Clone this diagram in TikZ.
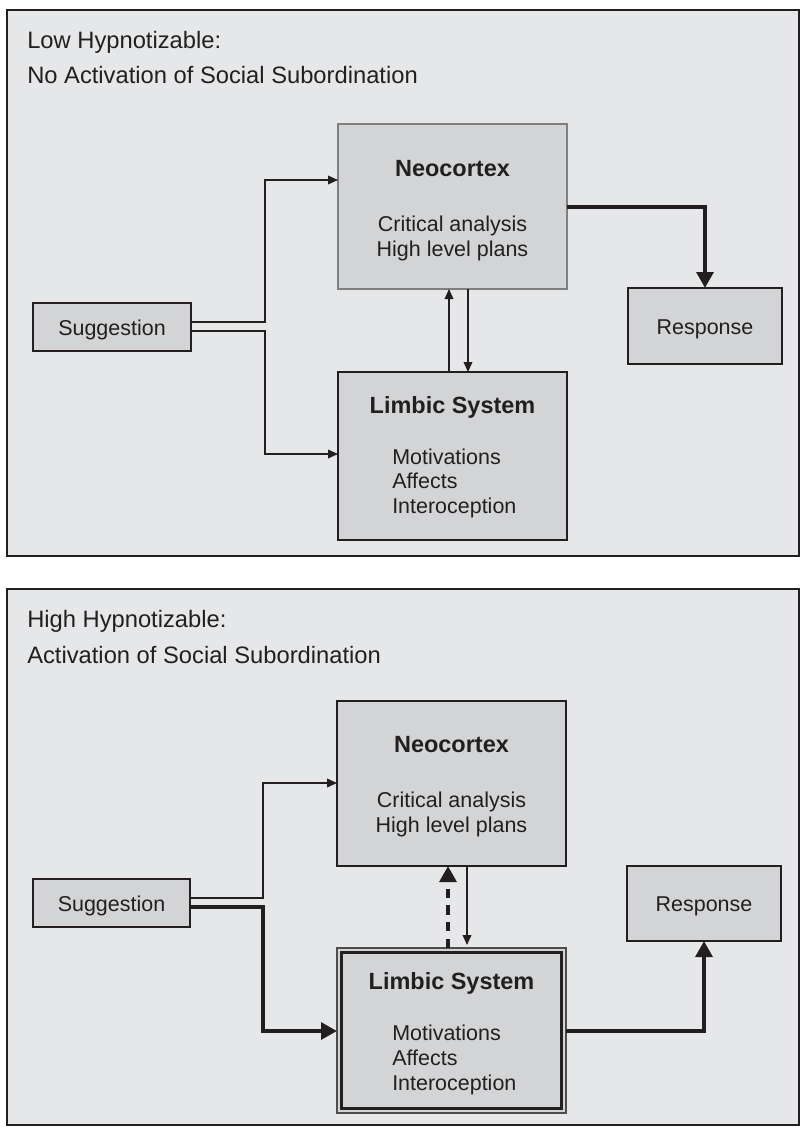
\documentclass[tikz,border=0pt]{standalone}
\usepackage{fontspec}
\setmainfont{Liberation Sans}
\usetikzlibrary{arrows.meta,calc}
\definecolor{panelbg}{HTML}{E6E7E8}
\definecolor{boxbg}{HTML}{D3D4D5}
\definecolor{ink}{HTML}{231F20}
\definecolor{softedge}{HTML}{7F7F7F}

\begin{document}
\begin{tikzpicture}[x=0.75pt,y=-0.75pt,
  panel/.style={draw=ink, line width=1.4pt, fill=panelbg},
  box/.style={draw=ink, line width=1.4pt, fill=boxbg, inner sep=0pt, outer sep=0pt},
  softbox/.style={box, draw=softedge, line width=1.1pt},
  outerbox/.style={box, draw=ink!80, line width=0.9pt},
  heading/.style={font=\fontsize{17.8}{21}\selectfont, text=ink, anchor=base west, inner sep=0pt},
  boxhead/.style={font=\fontsize{17.6}{20}\selectfont\bfseries, text=ink, anchor=base, inner sep=0pt},
  boxtext/.style={font=\fontsize{16.1}{19}\selectfont, text=ink, anchor=base, inner sep=0pt},
  listtext/.style={boxtext, anchor=base west},
  thinline/.style={draw=ink, line width=1.1pt},
  thinarrow/.style={thinline, -{Triangle[length=7.5pt,width=6.5pt]}},
  thickarrow/.style={draw=ink, line width=3pt, -{Triangle[length=12pt,width=12.5pt]}},
  dasharrow/.style={thickarrow, dash pattern=on 7pt off 5.5pt}
]
\useasboundingbox (0,0) rectangle (801,1131);
\fill[white] (0,0) rectangle (801,1131);

% ---------- low hypnotizable panel ----------
\draw[panel] (7,10) rectangle (799,556);
\node[heading] (lowA) at (27,48.3) {Low Hypnotizable:};
\node[heading] (lowB) at (27,84) {No Activation of Social Subordination};

\node[softbox, minimum width=171.75pt, minimum height=123.75pt] (neoA) at (452.5,206.5) {};
\node[boxhead] (neoAh) at ($(neoA.north)+(0,52)$) {Neocortex};
\node[boxtext] (neoA1) at ($(neoA.north)+(0,107)$) {Critical analysis};
\node[boxtext] (neoA2) at ($(neoA.north)+(0,132)$) {High level plans};

\node[box, minimum width=171.75pt, minimum height=126pt] (limA) at (452.5,456) {};
\node[boxhead] (limAh) at ($(limA.north)+(0,41)$) {Limbic System};
\node[listtext] (limA1) at ($(limA.north)+(-60.5,92)$) {Motivations};
\node[listtext] (limA2) at ($(limA.north)+(-60.5,116.5)$) {Affects};
\node[listtext] (limA3) at ($(limA.north)+(-60.5,141)$) {Interoception};

\node[box, minimum width=118.5pt, minimum height=36pt] (sugA) at (112,327) {};
\node[boxtext] (sugAt) at ($(sugA.center)+(0,8)$) {Suggestion};

\node[box, minimum width=115.5pt, minimum height=57pt] (resA) at (705,326) {};
\node[boxtext] (resAt) at ($(resA.center)+(0,8)$) {Response};

\draw[thinarrow] ($(sugA.east)+(0,-5)$) -| ($(neoA.west)+(-73,-26.5)$) -- ($(neoA.west)+(0,-26.5)$);
\draw[thinarrow] ($(sugA.east)+(0,4)$) -| ($(limA.west)+(-73,-2)$) -- ($(limA.west)+(0,-2)$);
\draw[thinarrow] ($(limA.north)+(-3.5,0)$) -- ($(neoA.south)+(-3.5,0)$);
\draw[thinarrow] ($(neoA.south)+(15.5,0)$) -- ($(limA.north)+(15.5,0)$);
\draw[thickarrow] ($(neoA.east)+(0,0.5)$) -| (resA.north);

% ---------- high hypnotizable panel ----------
\draw[panel] (7,589) rectangle (799,1125);
\node[heading] (highA) at (27,627.6) {High Hypnotizable:};
\node[heading] (highB) at (27,663.3) {Activation of Social Subordination};

\node[box, minimum width=171.75pt, minimum height=123.75pt] (neoB) at (451.5,783.5) {};
\node[boxhead] (neoBh) at ($(neoB.north)+(0,51)$) {Neocortex};
\node[boxtext] (neoB1) at ($(neoB.north)+(0,106)$) {Critical analysis};
\node[boxtext] (neoB2) at ($(neoB.north)+(0,131)$) {High level plans};

\node[outerbox, minimum width=171.75pt, minimum height=123.75pt] (limB) at (451.5,1030.5) {};
\draw[draw=ink, line width=2.3pt] ($(limB.north west)+(4.5,4.5)$) rectangle ($(limB.south east)+(-4.5,-4.5)$);
\node[boxhead] (limBh) at ($(limB.north)+(0,41)$) {Limbic System};
\node[listtext] (limB1) at ($(limB.north)+(-59.5,92)$) {Motivations};
\node[listtext] (limB2) at ($(limB.north)+(-59.5,117)$) {Affects};
\node[listtext] (limB3) at ($(limB.north)+(-59.5,142)$) {Interoception};

\node[box, minimum width=117.75pt, minimum height=36pt] (sugB) at (111.5,903) {};
\node[boxtext] (sugBt) at ($(sugB.center)+(0,8)$) {Suggestion};

\node[box, minimum width=115.5pt, minimum height=56.25pt] (resB) at (704,903.5) {};
\node[boxtext] (resBt) at ($(resB.center)+(0,8)$) {Response};

\draw[thinarrow] ($(sugB.east)+(0,-5)$) -| ($(neoB.west)+(-74,-0.5)$) -- ($(neoB.west)+(0,-0.5)$);
\draw[thickarrow] ($(sugB.east)+(0,4)$) -| ($(limB.west)+(-74,0.5)$) -- ($(limB.west)+(0,0.5)$);
\draw[dasharrow] ($(limB.north)+(-3.5,0)$) -- ($(neoB.south)+(-3.5,0)$);
\draw[thinarrow] ($(neoB.south)+(15.5,0)$) -- ($(limB.north)+(15.5,-3)$);
\draw[thickarrow] ($(limB.east)+(0,0.5)$) -| (resB.south);
\end{tikzpicture}
\end{document}
